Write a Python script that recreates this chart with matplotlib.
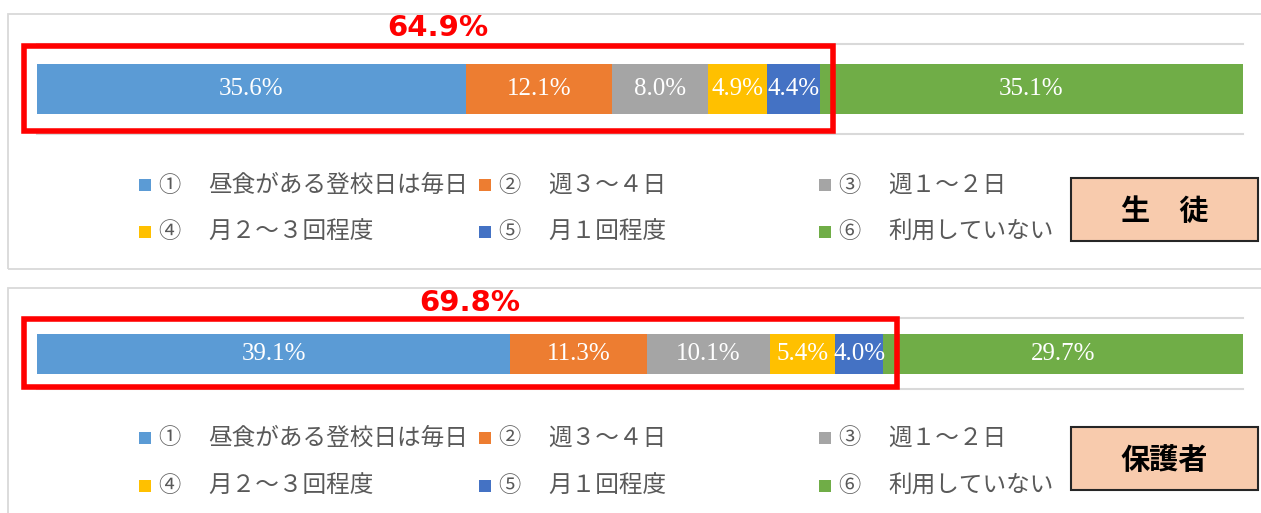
import matplotlib
matplotlib.use("Agg")
import matplotlib.pyplot as plt
from matplotlib.patches import Rectangle
import matplotlib.transforms as mtransforms

# ---- data ----
nums = ["①", "②", "③", "④", "⑤", "⑥"]
categories = ["昼食がある登校日は毎日", "週３～４日", "週１～２日",
              "月２～３回程度", "月１回程度", "利用していない"]
colors = ["#5B9BD5", "#ED7D31", "#A5A5A5", "#FFC000", "#4472C4", "#70AD47"]
student_vals = [35.6, 12.1, 8.0, 4.9, 4.4, 35.1]
parent_vals = [39.1, 11.3, 10.1, 5.4, 4.0, 29.7]
panel_names = ["生　徒", "保護者"]
highlight_texts = ["64.9%", "69.8%"]

W, H = 1261, 513
fig = plt.figure(figsize=(W / 100, H / 100), dpi=100)
fig.patch.set_facecolor("white")

JP = ["Noto Sans CJK JP", "DejaVu Sans"]


def fx(x):
    return x / W


def fy(y):
    return 1 - y / H


def add_panel(vals, top, name, hl_text, grid_h, bar_px):
    # panel border
    fig.patches.append(Rectangle((fx(8), fy(top + 255)), fx(1300 - 8), (255) / H,
                                 transform=fig.transFigure, facecolor="none",
                                 edgecolor="#D9D9D9", lw=1.3))
    # bar axes
    ax_top = top + 30
    ax = fig.add_axes([fx(37), fy(ax_top + grid_h), fx(1243 - 37), grid_h / H])
    total = sum(vals)
    left = 0
    bh = bar_px / grid_h
    for v, c in zip(vals, colors):
        ax.barh(0, v, left=left, height=bh, color=c, edgecolor="none")
        ax.text(left + v / 2, 0, f"{v:.1f}%", ha="center", va="center",
                color="white", fontsize=18, family=["Liberation Serif"])
        left += v
    ax.set_xlim(0, total)
    ax.set_ylim(-0.5, 0.5)
    ax.set_xticks([])
    ax.set_yticks([])
    for s in ["left", "right"]:
        ax.spines[s].set_visible(False)
    for s in ["top", "bottom"]:
        ax.spines[s].set_color("#D9D9D9")
        ax.spines[s].set_linewidth(1.5)
    # red highlight box around first five segments
    cum5 = sum(vals[:5])
    trans = mtransforms.blended_transform_factory(ax.transData, ax.transAxes)
    ax.add_patch(Rectangle((-1.1, 0.03), cum5 + 2.2, 0.95, transform=trans,
                           facecolor="none", edgecolor="#FF0000", lw=4,
                           clip_on=False, zorder=5))
    ax.text(cum5 / 2 + 0.8, 1.02, hl_text, transform=trans,
            ha="center", va="bottom", color="#FF0000", fontsize=21,
            fontweight="bold", family=["DejaVu Sans"])
    return ax


def add_legend(row1_y, row2_y):
    col_x = [145, 485, 825]
    for i in range(6):
        r, c = divmod(i, 3)
        y = row1_y if r == 0 else row2_y
        x = col_x[c]
        fig.patches.append(Rectangle((fx(x - 6), fy(y + 6)), 12 / W, 12 / H,
                                     transform=fig.transFigure,
                                     facecolor=colors[i], edgecolor="none"))
        fig.text(fx(x + 13), fy(y), nums[i], ha="left", va="center",
                 fontsize=16, color="#595959", family=JP)
        fig.text(fx(x + 63), fy(y), categories[i], ha="left", va="center",
                 fontsize=17, color="#595959", family=JP)


def add_namebox(y0, name):
    fig.patches.append(Rectangle((fx(1071), fy(y0 + 63)), (1258 - 1071) / W, 63 / H,
                                 transform=fig.transFigure,
                                 facecolor="#F8CBAD", edgecolor="#262626", lw=1.5))
    fig.text(fx((1071 + 1258) / 2), fy(y0 + 33), name, ha="center", va="center",
             fontsize=21, color="black", family=JP, fontweight="bold")


add_panel(student_vals, 14, panel_names[0], highlight_texts[0], 90, 50)
add_legend(185, 232)
add_namebox(178, panel_names[0])

add_panel(parent_vals, 288, panel_names[1], highlight_texts[1], 71, 40)
add_legend(438, 486)
add_namebox(427, panel_names[1])

fig.savefig("out.png", dpi=100)
